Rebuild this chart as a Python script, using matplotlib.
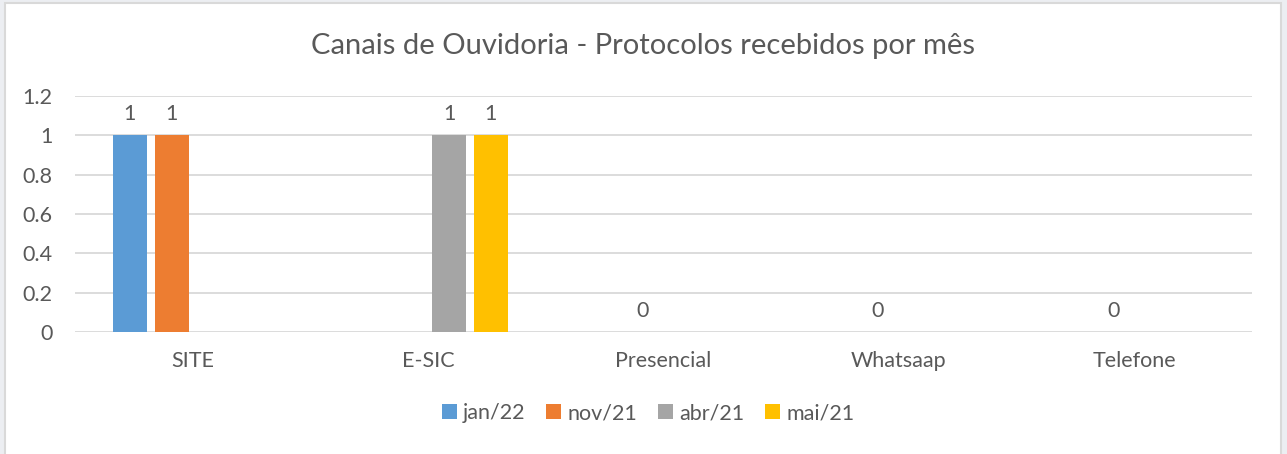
import numpy as np
import matplotlib
matplotlib.use("Agg")
import matplotlib.pyplot as plt
from matplotlib.patches import Rectangle, Patch

plt.rcParams['font.family'] = ['Lato', 'DejaVu Sans']

categories = ["SITE", "E-SIC", "Presencial", "Whatsaap", "Telefone"]
series_names = ["jan/22", "nov/21", "abr/21", "mai/21"]
jan22 = [1, np.nan, np.nan, np.nan, np.nan]
nov21 = [1, np.nan, 0, 0, 0]
abr21 = [np.nan, 1, np.nan, np.nan, np.nan]
mai21 = [np.nan, 1, np.nan, np.nan, np.nan]
series = [jan22, nov21, abr21, mai21]
colors = ["#5B9BD5", "#ED7D31", "#A5A5A5", "#FFC000"]
yticks = [0, 0.2, 0.4, 0.6, 0.8, 1, 1.2]
ytick_labels = ["0", "0.2", "0.4", "0.6", "0.8", "1", "1.2"]

W, H = 1287, 454
fig = plt.figure(figsize=(W / 100, H / 100), dpi=100)
fig.patch.set_facecolor("#eceef2")
fig.patches.append(Rectangle((5 / W, -0.01), 1276 / W, 1 - 3 / H + 0.01,
                             transform=fig.transFigure, facecolor="white",
                             edgecolor="#d9d9d9", linewidth=1.5, zorder=-10))

ax = fig.add_axes([75 / W, 122 / H, (1252 - 75) / W, (332 - 96) / H])
ax.set_facecolor("none")
text_color = "#595959"
fs = 15.5

x = np.arange(len(categories))
bw = 0.1445
step = 0.178
for i, (vals, name, c) in enumerate(zip(series, series_names, colors)):
    off = (i - 1.5) * step
    bars = ax.bar(x + off, vals, width=bw, color=c, label=name, zorder=2)
    labels = ["" if np.isnan(v) else f"{v:g}" for v in vals]
    ax.bar_label(bars, labels=labels, padding=8, color=text_color, fontsize=fs)

ax.set_xlim(-0.5, len(categories) - 0.5)
ax.set_ylim(0, 1.2)
ax.set_yticks(yticks)
ax.set_yticklabels(ytick_labels)
ax.set_xticks(x)
ax.set_xticklabels(categories)
ax.tick_params(axis="y", length=0, pad=16, labelsize=fs, labelcolor=text_color)
ax.tick_params(axis="x", length=0, pad=14, labelsize=fs, labelcolor=text_color)
ax.grid(axis="y", color="#d9d9d9", linewidth=1.3, zorder=1)
ax.set_axisbelow(True)
for s in ax.spines.values():
    s.set_visible(False)

fig.text(643 / W, 1 - 46 / H, "Canais de Ouvidoria - Protocolos recebidos por mês",
         ha="center", va="center", fontsize=21, color=text_color)

handles = [Patch(facecolor=c, label=n) for c, n in zip(colors, series_names)]
fig.legend(handles=handles, loc="center", bbox_to_anchor=(648 / W, 1 - 413 / H),
           ncol=4, frameon=False, fontsize=fs, handlelength=0.7, handleheight=0.7,
           handletextpad=0.3, columnspacing=0.95, labelcolor=text_color)

fig.savefig("out.png", dpi=100, facecolor=fig.get_facecolor())
